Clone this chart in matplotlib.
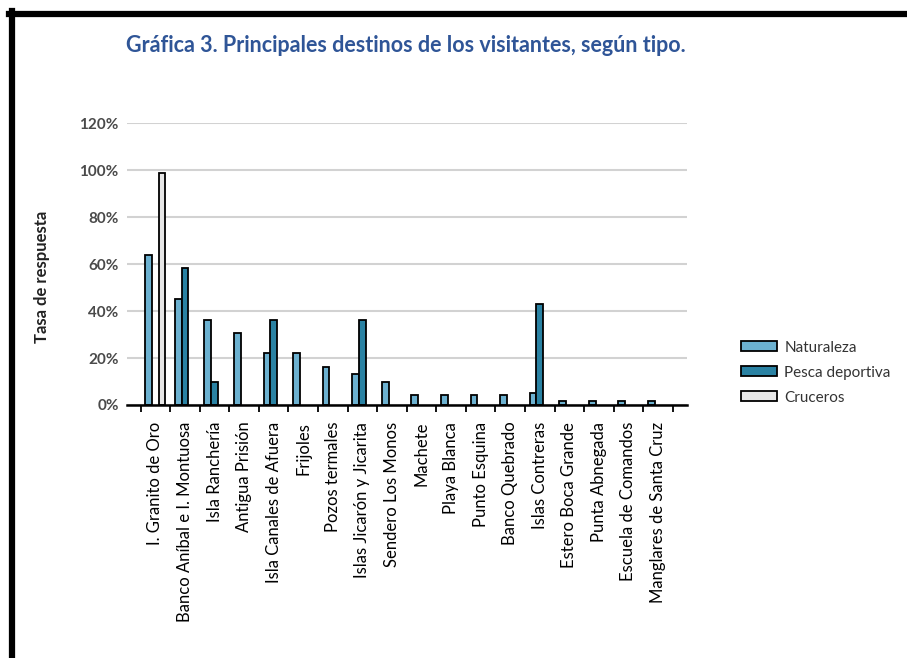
import matplotlib.pyplot as plt
import numpy as np
from matplotlib.lines import Line2D

plt.rcParams['font.family'] = ['Lato', 'DejaVu Sans']

destinos = ["I. Granito de Oro", "Banco Aníbal e I. Montuosa", "Isla Ranchería",
            "Antigua Prisión", "Isla Canales de Afuera", "Frijoles", "Pozos termales",
            "Islas Jicarón y Jicarita", "Sendero Los Monos", "Machete", "Playa Blanca",
            "Punto Esquina", "Banco Quebrado", "Islas Contreras", "Estero Boca Grande",
            "Punta Abnegada", "Escuela de Comandos", "Manglares de Santa Cruz"]

naturaleza = [64, 45, 36, 30.5, 22, 22, 16, 13, 10, 4.3, 4.3, 4.3, 4.3, 5, 1.8, 1.8, 1.8, 1.8]
pesca = [0, 58.5, 10, 0, 36.3, 0, 0, 36.3, 0, 0, 0, 0, 0, 43, 0, 0, 0, 0]
cruceros = [99, 0, 0, 0, 0, 0, 0, 0, 0, 0, 0, 0, 0, 0, 0, 0, 0, 0]

series = ["Naturaleza", "Pesca deportiva", "Cruceros"]
colores = ["#6cb1d0", "#2a82a3", "#e6e6e6"]

fig = plt.figure(figsize=(9.07, 6.58), dpi=100)
ax = fig.add_axes([127/907, 1-405/658, 560/907, (405-123.3)/658])

x = np.arange(len(destinos))
w = 0.226
for k, vals in enumerate([naturaleza, pesca, cruceros]):
    v = np.array(vals, dtype=float)
    m = v > 0
    ax.bar(x[m] + (k-1)*w, v[m], width=w, color=colores[k], edgecolor="black",
           linewidth=1.3, zorder=3)

ax.set_ylim(0, 120)
ax.set_xlim(-0.96, 17.98)
ax.set_yticks(np.arange(0, 121, 20))
ax.set_yticklabels(["%d%%" % t for t in range(0, 121, 20)], fontsize=11,
                   fontweight="bold", color="#4a4a4a")
ax.tick_params(axis="y", length=0, pad=6)
ax.grid(axis="y", color="#d2d2d2", linewidth=1.5, zorder=0)

ax.set_xticks(np.arange(-0.5, 18, 1))
ax.set_xticklabels([])
ax.tick_params(axis="x", which="major", length=5, width=1.3, color="black")
ax.set_xticks(x, minor=True)
ax.set_xticklabels(destinos, minor=True, rotation=90, fontsize=12, va="top")
ax.tick_params(axis="x", which="minor", length=0, pad=12)

for s in ["top", "right", "left"]:
    ax.spines[s].set_visible(False)
ax.spines["bottom"].set_linewidth(1.8)
ax.spines["bottom"].set_zorder(4)

fig.text(42/907, 1-277/658, "Tasa de respuesta", rotation=90, ha="center",
         va="center", fontsize=12, fontweight="bold", color="#222222")

fig.text(406/907, 1-45/658, "Gráfica 3. Principales destinos de los visitantes, según tipo.",
         ha="center", va="center", fontsize=15.5, fontweight="bold", color="#2f5597")

handles = [plt.Rectangle((0, 0), 1, 1, facecolor=c, edgecolor="black", linewidth=1.3)
           for c in colores]
fig.legend(handles, series, loc="upper left", bbox_to_anchor=(733/907, 1-333/658),
           frameon=False, fontsize=11, handlelength=2.4, handleheight=0.65,
           labelspacing=0.72, handletextpad=0.45, borderpad=0, labelcolor="#333333")

# marco negro del documento
fig.add_artist(Line2D([9/907, 1], [1-14/658, 1-14/658], color="black", linewidth=4.5))
fig.add_artist(Line2D([12/907, 12/907], [0, 1-11/658], color="black", linewidth=4.5))

fig.savefig("out.png", dpi=100)
